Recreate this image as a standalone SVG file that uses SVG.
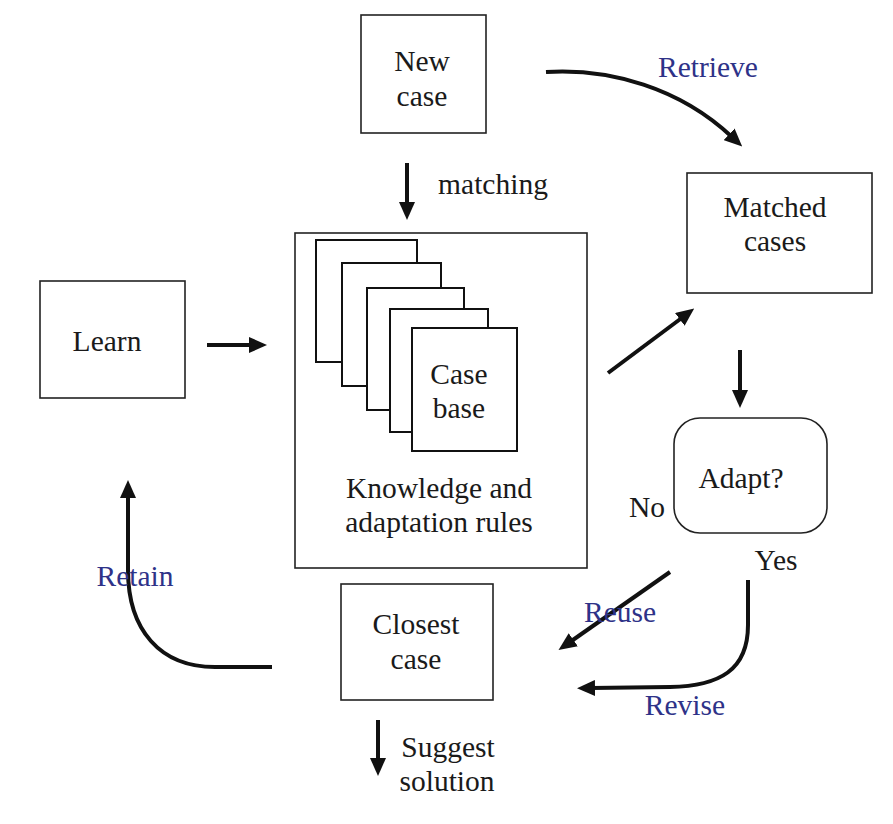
<svg xmlns="http://www.w3.org/2000/svg" width="893" height="824" viewBox="0 0 893 824">
<defs>
<style>
.box{fill:#fff;stroke:#222;stroke-width:1.6}
.pg{fill:#fff;stroke:#111;stroke-width:2}
.t{font-family:"Liberation Serif","Times New Roman",serif;font-size:29.5px;fill:#1a1a1a;text-anchor:middle}
.b{font-family:"Liberation Serif","Times New Roman",serif;font-size:29.5px;fill:#2e3288;text-anchor:middle}
.c{fill:none;stroke:#111;stroke-width:4}
</style>
<marker id="ah" viewBox="0 0 18 16" refX="4" refY="8" markerWidth="18" markerHeight="16" markerUnits="userSpaceOnUse" orient="auto">
<path d="M0,0 L18,8 L0,16 Z" fill="#111"/>
</marker>
</defs>
<rect width="893" height="824" fill="#fff"/>
<g id="new-case"><rect class="box" x="361" y="15" width="125" height="118"/><text class="t" x="422" y="71">New</text><text class="t" x="422" y="106">case</text></g>
<g id="knowledge"><rect class="box" x="295" y="233" width="292" height="335"/>
<rect class="pg" x="316" y="240" width="101" height="122"/>
<rect class="pg" x="342" y="263" width="99" height="123"/>
<rect class="pg" x="367" y="288" width="97" height="122"/>
<rect class="pg" x="390" y="309" width="98" height="123"/>
<rect class="pg" x="412" y="328" width="105" height="123"/>
<text class="t" x="459" y="384">Case</text><text class="t" x="459" y="418">base</text>
<text class="t" x="439" y="498">Knowledge and</text><text class="t" x="439" y="532">adaptation rules</text></g>
<g id="learn"><rect class="box" x="40" y="281" width="145" height="117"/><text class="t" x="107" y="351">Learn</text></g>
<g id="matched"><rect class="box" x="687" y="173" width="185" height="120"/><text class="t" x="775" y="217">Matched</text><text class="t" x="775" y="251">cases</text></g>
<g id="adapt"><rect class="box" x="674" y="418" width="153" height="115" rx="26" ry="26"/><text class="t" x="741" y="488">Adapt?</text></g>
<g id="closest"><rect class="box" x="341" y="584" width="152" height="116"/><text class="t" x="416" y="634">Closest</text><text class="t" x="416" y="669">case</text></g>
<g id="connectors">
<line class="c" x1="407" y1="163" x2="407" y2="206" marker-end="url(#ah)"/>
<line class="c" x1="207" y1="345" x2="253" y2="345" marker-end="url(#ah)"/>
<path class="c" d="M546,72 C610,68 680,88 732,137" marker-end="url(#ah)"/>
<line class="c" x1="608" y1="373" x2="683" y2="317" marker-end="url(#ah)"/>
<line class="c" x1="740" y1="350" x2="740" y2="394" marker-end="url(#ah)"/>
<line class="c" x1="670" y1="572" x2="570" y2="642" marker-end="url(#ah)"/>
<path class="c" d="M748,580 L748,625 C748,670 720,686 670,687 L591,688" marker-end="url(#ah)"/>
<path class="c" d="M272,667 L215,667 C160,667 128,630 128,570 L128,494" marker-end="url(#ah)"/>
<line class="c" x1="378" y1="720" x2="378" y2="762" marker-end="url(#ah)"/>
</g>
<g id="labels">
<text class="t" x="493" y="194">matching</text>
<text class="b" x="708" y="77">Retrieve</text>
<text class="t" x="647" y="517">No</text>
<text class="t" x="776" y="570">Yes</text>
<text class="b" x="620" y="622">Reuse</text>
<text class="b" x="685" y="715">Revise</text>
<text class="b" x="135" y="586">Retain</text>
<text class="t" x="448" y="757">Suggest</text>
<text class="t" x="447" y="791">solution</text>
</g>
</svg>
